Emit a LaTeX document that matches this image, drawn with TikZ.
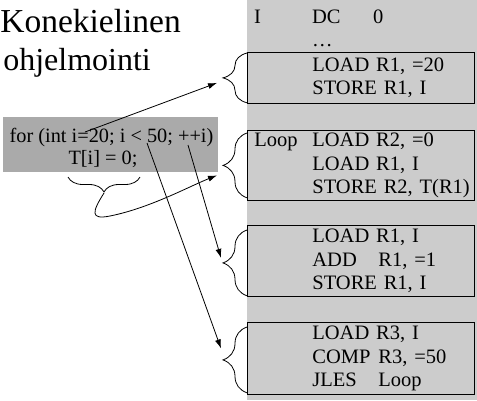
\documentclass[tikz,border=0pt]{standalone}
\usepackage{fontspec}
\setmainfont{Liberation Serif}
\usetikzlibrary{decorations.pathreplacing,arrows.meta}

\definecolor{bandgray}{RGB}{204,204,204}
\definecolor{codegray}{RGB}{170,170,170}

\newcommand\asmlbl[1]{\hspace*{7pt}\makebox[58pt][l]{#1}}
\newcommand\asmop[1]{\makebox[66pt][l]{#1}}

\tikzset{
  asmtxt/.style={inner sep=0pt, font=\fontsize{20.5}{23.5}\selectfont},
  asmbox/.style={draw, fill=bandgray, anchor=north west, minimum width=227pt,
    text width=227pt, inner xsep=0pt, inner ysep=0pt, align=left,
    line width=0.8pt, font=\fontsize{20.5}{23.5}\selectfont},
  codetxt/.style={inner sep=0pt, anchor=base, font=\fontsize{20.3}{22}\selectfont},
  asmbrace/.style={decorate, decoration={brace, amplitude=#1}, line width=0.8pt},
  pointer/.style={-{Latex[length=9pt,width=6pt]}, line width=0.8pt},
}

\begin{document}
\begin{tikzpicture}[x=1pt, y=-1pt]
    \useasboundingbox (0,0) rectangle (477,400);
    \fill[bandgray] (247,0) rectangle (477,400);

    \node[anchor=base east, inner sep=0pt, font=\fontsize{33.5}{38}\selectfont] (title1) at (181,32) {Konekielinen};
    \node[anchor=base east, inner sep=0pt, font=\fontsize{32}{38}\selectfont] (title2) at (151,70) {ohjelmointi};

    % assembly side
    \node[asmtxt, anchor=base west] (decl) at (247,23) {\asmlbl{I}\makebox[61pt][l]{DC}0};
    \node[asmtxt, anchor=base west] (dots) at (312,46) {\dots};

    \node[asmbox, minimum height=51pt] (init) at (247,52)
        {\asmlbl{}LOAD R1, =20\\\asmlbl{}STORE R1, I};
    \node[asmbox, minimum height=70pt] (loopbody) at (247,130)
        {\asmlbl{Loop}LOAD R2, =0\\\asmlbl{}LOAD R1, I\\\asmlbl{}STORE R2, T(R1)};
    \node[asmbox, minimum height=71pt] (incr) at (247,225)
        {\asmlbl{}LOAD R1, I\\\asmlbl{}\asmop{ADD}R1, =1\\\asmlbl{}STORE R1, I};
    \node[asmbox, minimum height=72pt] (test) at (247,322)
        {\asmlbl{}LOAD R3, I\\\asmlbl{}\asmop{COMP}R3, =50\\\asmlbl{}\asmop{JLES}Loop};

    % C side
    \node[fill=codegray, minimum width=215pt, minimum height=55pt, inner sep=0pt] (code) at (110.5,144.5) {};
    \node[codetxt] (forline) at (111.5,142) {for (int i=20; i < 50; ++i)};
    \node[codetxt] (body) at (103,164) {T[i] = 0;};

    % braces
    \draw[asmbrace=15pt] (140,177) -- (68,177);
    \coordinate (bodytip) at (104,193);
    \draw[asmbrace=24pt] ([yshift=1pt]init.south west) -- ([yshift=-1pt]init.north west);
    \draw[asmbrace=24pt] ([yshift=3pt]loopbody.south west) -- ([yshift=-3pt]loopbody.north west);
    \draw[asmbrace=24pt] ([yshift=1pt]incr.south west) -- ([yshift=-5pt]incr.north west);
    \draw[asmbrace=24pt] ([yshift=2pt]test.south west) -- ([yshift=-5pt]test.north west);

    % arrows
    \coordinate (initsrc) at (85,132);
    \coordinate (incsrc)  at (188,145);
    \coordinate (cmpsrc)  at (147,143);
    \coordinate (initin) at ([xshift=-30pt,yshift=-5pt]init.west);
    \coordinate (loopin) at ([xshift=-30pt,yshift=-10pt]loopbody.west);
    \coordinate (incin)  at ([xshift=-26pt,yshift=3pt]incr.west);
    \coordinate (cmpin)  at ([xshift=-26pt,yshift=10pt]test.west);

    \draw[pointer] (initsrc) -- (initin);
    \draw[pointer] (bodytip) .. controls (92,212) and (90,220) .. (110,216)
                             .. controls (150,208) and (190,186) .. (loopin);
    \draw[pointer] (incsrc) -- (incin);
    \draw[pointer] (cmpsrc) -- (cmpin);
\end{tikzpicture}
\end{document}
